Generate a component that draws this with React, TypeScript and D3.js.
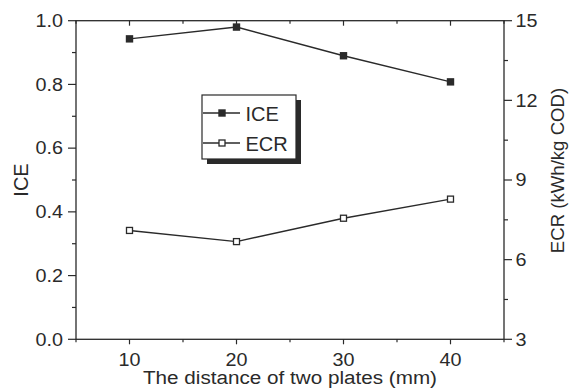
import React from "react";
import * as d3 from "d3";

const distances = [10, 20, 30, 40];
const iceValues = [0.943, 0.98, 0.89, 0.808];
const ecrValues = [7.1, 6.68, 7.56, 8.28];
const xMajorTicks = [10, 20, 30, 40];
const xMinorTicks = [5, 15, 25, 35, 45];
const leftMajorTicks = [0, 0.2, 0.4, 0.6, 0.8, 1.0];
const leftMinorTicks = [0.1, 0.3, 0.5, 0.7, 0.9];
const rightMajorTicks = [3, 6, 9, 12, 15];
const rightMinorTicks = [4.5, 7.5, 10.5, 13.5];

const W = 570;
const H = 391;
const m = { left: 76, right: 504, top: 20.7, bottom: 339.3 };
const FONT = "'Liberation Sans', Arial, sans-serif";
const INK = "#2a2a2a";
const SX = 1.13;

function STxt(props: { x: number; y: number; anchor: string; size: number; children: React.ReactNode }) {
  return (
    <text
      transform={`translate(${props.x},${props.y}) scale(${SX},1)`}
      textAnchor={props.anchor}
      fontSize={props.size}
      fill={INK}
    >
      {props.children}
    </text>
  );
}

export default function App() {
  const x = d3.scaleLinear().domain([5, 45]).range([m.left, m.right]);
  const yL = d3.scaleLinear().domain([0, 1]).range([m.bottom, m.top]);
  const yR = d3.scaleLinear().domain([3, 15]).range([m.bottom, m.top]);

  const iceLine = d3
    .line<number>()
    .x((_, i) => x(distances[i]))
    .y((d) => yL(d))(iceValues) as string;
  const ecrLine = d3
    .line<number>()
    .x((_, i) => x(distances[i]))
    .y((d) => yR(d))(ecrValues) as string;

  const lg = { x: 202, y: 95, w: 94, h: 64 };

  return (
    <svg
      width={W}
      height={H}
      style={{ position: "absolute", left: 0, top: 0, background: "#fff" }}
      fontFamily={FONT}
    >
      {/* frame */}
      <rect
        x={m.left}
        y={m.top}
        width={m.right - m.left}
        height={m.bottom - m.top}
        fill="none"
        stroke={INK}
        strokeWidth={1.3}
      />
      {/* bottom / top axis ticks */}
      {xMajorTicks.map((t) => (
        <g key={"xb" + t}>
          <line x1={x(t)} x2={x(t)} y1={m.bottom} y2={m.bottom + 5} stroke={INK} strokeWidth={1.2} />
          <line x1={x(t)} x2={x(t)} y1={m.top} y2={m.top + 5} stroke={INK} strokeWidth={1.2} />
          <STxt x={x(t)} y={366} anchor="middle" size={17.5}>
            {t}
          </STxt>
        </g>
      ))}
      {xMinorTicks.map((t) => (
        <g key={"xm" + t}>
          <line x1={x(t)} x2={x(t)} y1={m.bottom} y2={m.bottom + 3} stroke={INK} strokeWidth={1.2} />
          <line x1={x(t)} x2={x(t)} y1={m.top} y2={m.top + 3} stroke={INK} strokeWidth={1.2} />
        </g>
      ))}
      {/* left axis */}
      {leftMajorTicks.map((t) => (
        <g key={"yl" + t}>
          <line x1={m.left - 8} x2={m.left} y1={yL(t)} y2={yL(t)} stroke={INK} strokeWidth={1.2} />
          <STxt x={63} y={yL(t) + 6.3} anchor="end" size={17.5}>
            {t.toFixed(1)}
          </STxt>
        </g>
      ))}
      {leftMinorTicks.map((t) => (
        <line key={"ylm" + t} x1={m.left - 4} x2={m.left} y1={yL(t)} y2={yL(t)} stroke={INK} strokeWidth={1.2} />
      ))}
      {/* right axis */}
      {rightMajorTicks.map((t) => (
        <g key={"yr" + t}>
          <line x1={m.right} x2={m.right + 8} y1={yR(t)} y2={yR(t)} stroke={INK} strokeWidth={1.2} />
          <STxt x={515.5} y={yR(t) + 6.3} anchor="start" size={17.5}>
            {t}
          </STxt>
        </g>
      ))}
      {rightMinorTicks.map((t) => (
        <line key={"yrm" + t} x1={m.right} x2={m.right + 4} y1={yR(t)} y2={yR(t)} stroke={INK} strokeWidth={1.2} />
      ))}
      {/* axis titles */}
      <text
        x={290}
        y={384}
        textAnchor="middle"
        fontSize={18}
        fill={INK}
        textLength={294}
        lengthAdjust="spacingAndGlyphs"
      >
        The distance of two plates (mm)
      </text>
      <text transform={`translate(27.5,180) rotate(-90)`} textAnchor="middle" fontSize={20} fill={INK}>
        ICE
      </text>
      <text
        transform={`translate(563.5,170.5) rotate(-90)`}
        textAnchor="middle"
        fontSize={18.6}
        fill={INK}
      >
        ECR (kWh/kg COD)
      </text>
      {/* series */}
      <path d={iceLine} fill="none" stroke={INK} strokeWidth={1.4} />
      <path d={ecrLine} fill="none" stroke={INK} strokeWidth={1.4} />
      {iceValues.map((v, i) => (
        <rect
          key={"ice" + i}
          x={x(distances[i]) - 3.7}
          y={yL(v) - 3.7}
          width={7.4}
          height={7.4}
          fill={INK}
        />
      ))}
      {ecrValues.map((v, i) => (
        <rect
          key={"ecr" + i}
          x={x(distances[i]) - 3}
          y={yR(v) - 3}
          width={6}
          height={6}
          fill="#fff"
          stroke={INK}
          strokeWidth={1.3}
        />
      ))}
      {/* legend */}
      <rect x={lg.x + 5} y={lg.y + 5} width={lg.w} height={lg.h} fill={INK} />
      <rect x={lg.x} y={lg.y} width={lg.w} height={lg.h} fill="#fff" stroke={INK} strokeWidth={1.2} />
      <line x1={203} x2={240} y1={113} y2={113} stroke={INK} strokeWidth={1.4} />
      <rect x={222 - 3.7} y={113 - 3.7} width={7.4} height={7.4} fill={INK} />
      <text x={245.5} y={120.5} fontSize={20} fill={INK}>
        ICE
      </text>
      <line x1={203} x2={240} y1={143} y2={143} stroke={INK} strokeWidth={1.4} />
      <rect x={222 - 3} y={143 - 3} width={6} height={6} fill="#fff" stroke={INK} strokeWidth={1.3} />
      <text x={245.5} y={150.5} fontSize={20} fill={INK}>
        ECR
      </text>
    </svg>
  );
}
